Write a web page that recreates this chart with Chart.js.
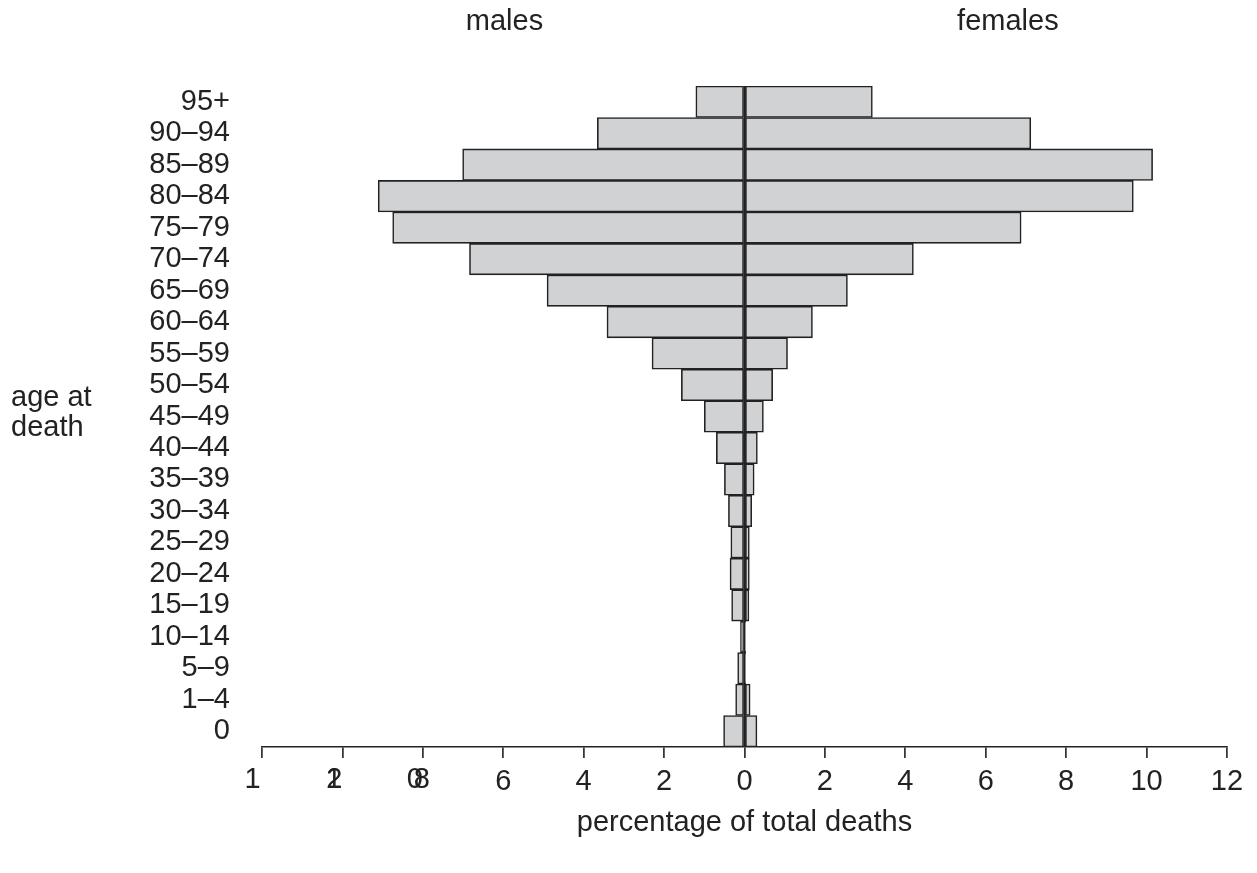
<!DOCTYPE html>
<html>
<head>
<meta charset="utf-8">
<title>Age at death pyramid</title>
<script src="https://cdn.jsdelivr.net/npm/chart.js@4.4.1/dist/chart.umd.min.js"></script>
<style>
  html, body { margin: 0; padding: 0; background: #fff; }
  #wrap { width: 1257px; height: 873px; position: relative; }
</style>
</head>
<body>
<div id="wrap"><canvas id="pyramid"></canvas></div>
<script>
// --- data (percent of total deaths), top row first ---
const AGE_GROUPS = ['95+', '90–94', '85–89', '80–84', '75–79', '70–74', '65–69',
  '60–64', '55–59', '50–54', '45–49', '40–44', '35–39', '30–34', '25–29',
  '20–24', '15–19', '10–14', '5–9', '1–4', '0'];
const MALE_PCT = [1.21, 3.66, 7.01, 9.11, 8.75, 6.84, 4.91, 3.42, 2.30, 1.57, 1.00,
  0.70, 0.50, 0.40, 0.34, 0.36, 0.32, 0.10, 0.17, 0.22, 0.52];
const FEMALE_PCT = [3.18, 7.12, 10.15, 9.67, 6.88, 4.20, 2.56, 1.69, 1.07, 0.70, 0.47,
  0.32, 0.24, 0.18, 0.12, 0.12, 0.11, 0.03, 0.02, 0.14, 0.31];

// x ticks run -12..12; the left-most labels are printed on top of each other
const X_TICKS = [-12, -10, -8, -6, -4, -2, 0, 2, 4, 6, 8, 10, 12];
const X_TICK_LABELS = ['1', '2', '8', '6', '4', '2', '0', '2', '4', '6', '8', '10', '12'];
const X_TICK_OVERPRINT = ['', '1', '0', '', '', '', '', '', '', '', '', '', ''];

const SIDE_TITLES = ['males', 'females'];
const X_TITLE = 'percentage of total deaths';
const Y_TITLE = ['age at', 'death'];

const FONT = "'Liberation Sans', Arial, Helvetica, sans-serif";
const FONT_SIZE = 29;
const INK = '#222222';
const BAR_FILL = '#d1d2d4';

// titles and the overprinted tick glyphs
const textLayer = {
  id: 'textLayer',
  afterDraw(chart) {
    const { ctx, scales: { x } } = chart;
    ctx.save();
    ctx.fillStyle = INK;
    ctx.font = FONT_SIZE + 'px ' + FONT;
    ctx.textAlign = 'center';
    ctx.textBaseline = 'middle';

    ctx.fillText(SIDE_TITLES[0], x.getPixelForValue(-5.97), 22);
    ctx.fillText(SIDE_TITLES[1], x.getPixelForValue(6.55), 22);
    ctx.fillText(X_TITLE, x.getPixelForValue(0), 823);

    // glyph offsets for the three crowded labels
    const mainShift = [-9.5, -8, -1];
    const overShift = [0, -8.5, -8];
    for (let i = 0; i < 3; i++) {
      const px = x.getPixelForValue(X_TICKS[i]);
      ctx.fillText(X_TICK_LABELS[i], px + mainShift[i], 780);
      if (X_TICK_OVERPRINT[i]) ctx.fillText(X_TICK_OVERPRINT[i], px + overShift[i], 780);
    }

    ctx.textAlign = 'left';
    ctx.textBaseline = 'alphabetic';
    ctx.fillText(Y_TITLE[0], 11, 406);
    ctx.fillText(Y_TITLE[1], 11, 436);
    ctx.restore();
  }
};

function createPyramid() {
  const ctx = document.getElementById('pyramid');

  new Chart(ctx, {
    type: 'bar',
    data: {
      labels: AGE_GROUPS,
      datasets: [
        {
          label: SIDE_TITLES[0],
          data: MALE_PCT.map(v => -v),
          backgroundColor: BAR_FILL,
          borderColor: INK,
          borderWidth: 1.6,
          borderSkipped: false,
          barPercentage: 1,
          categoryPercentage: 1
        },
        {
          label: SIDE_TITLES[1],
          data: FEMALE_PCT,
          backgroundColor: BAR_FILL,
          borderColor: INK,
          borderWidth: 1.6,
          borderSkipped: false,
          barPercentage: 1,
          categoryPercentage: 1
        }
      ]
    },
    options: {
      indexAxis: 'y',
      responsive: true,
      maintainAspectRatio: false,
      animation: false,
      layout: { padding: { top: 86, right: 30, bottom: 0, left: 0 } },
      plugins: {
        legend: { display: false },
        tooltip: { enabled: false }
      },
      scales: {
        x: {
          stacked: true,
          min: -12,
          max: 12,
          z: 1,
          afterBuildTicks: (scale) => {
            scale.ticks = X_TICKS.map(v => ({ value: v }));
          },
          afterFit: (scale) => { scale.height = 126; },
          grid: {
            display: true,
            drawOnChartArea: true,
            drawTicks: true,
            tickLength: 11,
            tickColor: INK,
            tickWidth: 1.6,
            color: (c) => (c.tick && c.tick.value === 0 ? INK : 'rgba(0,0,0,0)'),
            lineWidth: 1.8
          },
          border: { display: true, color: INK, width: 1.6 },
          ticks: {
            autoSkip: false,
            maxRotation: 0,
            padding: 7,
            color: INK,
            font: { family: FONT, size: FONT_SIZE },
            callback: (v, i) => (i < 3 ? '' : X_TICK_LABELS[i])
          }
        },
        y: {
          stacked: true,
          afterFit: (scale) => { scale.width = 262; },
          grid: { display: false },
          border: { display: false },
          ticks: {
            autoSkip: false,
            padding: 24,
            color: INK,
            font: { family: FONT, size: FONT_SIZE }
          }
        }
      }
    },
    plugins: [textLayer]
  });
}

createPyramid();
</script>
</body>
</html>
